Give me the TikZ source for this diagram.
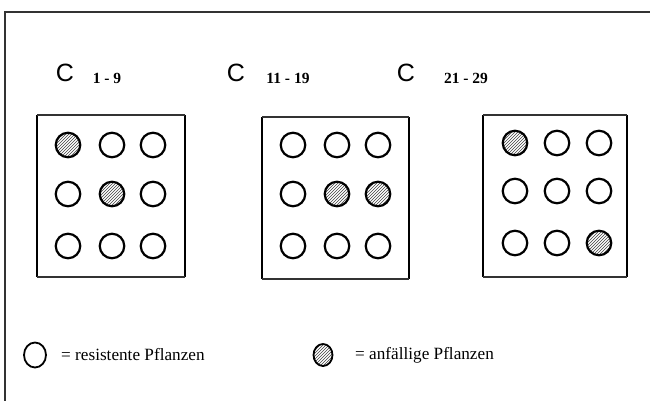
\documentclass[tikz,border=0pt]{standalone}
\usepackage{fontspec}
\setmainfont{Liberation Serif}
\newfontfamily\plainsans{Liberation Sans}
\usetikzlibrary{patterns,shapes.geometric}
\tikzset{
  plant/.style={circle, draw=black, line width=2.2pt, minimum size=24.5pt, inner sep=0pt},
  sick/.style={plant, pattern=north east lines, pattern color=black!75},
  plot/.style={draw=black, line width=2.4pt},
  plotedge/.style={draw=black!80, line width=1.3pt},
  bigC/.style={font=\plainsans\fontsize{25}{25}\selectfont, inner sep=0pt},
  rangelabel/.style={font=\bfseries\fontsize{15.5}{15.5}\selectfont, inner sep=0pt},
  legendtext/.style={font=\fontsize{17.2}{18}\selectfont, anchor=west, inner sep=0pt}
}
\begin{document}
\begin{tikzpicture}[x=1pt, y=-1pt]
\useasboundingbox (0,0) rectangle (650,401);
% outer frame (open to the right and bottom)
\draw[black!80, line width=1.2pt] (5,401) -- (5,12) -- (650,12);

% headings
\node[bigC] (c1) at (65,73) {C};
\node[rangelabel] (r1) at (107,78) {1 - 9};
\node[bigC] (c2) at (236,73) {C};
\node[rangelabel] (r2) at (288,78) {11 - 19};
\node[bigC] (c3) at (406,73) {C};
\node[rangelabel] (r3) at (466,78) {21 - 29};

% plots: side walls heavy, top and bottom light
\foreach \n/\l/\r/\t/\b in {1/37/185/115/277, 2/262/409/117/279, 3/483/627/115/277}{
  \coordinate (p\n nw) at (\l,\t);
  \coordinate (p\n ne) at (\r,\t);
  \coordinate (p\n sw) at (\l,\b);
  \coordinate (p\n se) at (\r,\b);
  \draw[plot] (p\n nw) -- (p\n sw);
  \draw[plot] (p\n ne) -- (p\n se);
  \draw[plotedge] (p\n nw) -- (p\n ne);
  \draw[plotedge] (p\n sw) -- (p\n se);
}

% plot C 1-9
\node[sick]  (a11) at (68,145) {};
\node[plant] (a12) at (112,145) {};
\node[plant] (a13) at (153,145) {};
\node[plant] (a21) at (68,194) {};
\node[sick]  (a22) at (112,194) {};
\node[plant] (a23) at (153,194) {};
\node[plant] (a31) at (68,246) {};
\node[plant] (a32) at (112,246) {};
\node[plant] (a33) at (153,246) {};

% plot C 11-19
\node[plant] (b11) at (293,145) {};
\node[plant] (b12) at (337,145) {};
\node[plant] (b13) at (378,145) {};
\node[plant] (b21) at (293,194) {};
\node[sick]  (b22) at (337,194) {};
\node[sick]  (b23) at (378,194) {};
\node[plant] (b31) at (293,246) {};
\node[plant] (b32) at (337,246) {};
\node[plant] (b33) at (378,246) {};

% plot C 21-29
\node[sick]  (d11) at (515,143) {};
\node[plant] (d12) at (557,143) {};
\node[plant] (d13) at (599,143) {};
\node[plant] (d21) at (515,191) {};
\node[plant] (d22) at (557,191) {};
\node[plant] (d23) at (599,191) {};
\node[plant] (d31) at (515,243) {};
\node[plant] (d32) at (557,243) {};
\node[sick]  (d33) at (599,243) {};

% legend
\node[plant, ellipse, minimum width=22pt, minimum height=25pt, line width=1.8pt] (k1) at (35,355) {};
\node[legendtext] (t1) at (61,355) {= resistente Pflanzen};
\node[sick, ellipse, minimum width=19pt, minimum height=22pt, line width=1.8pt] (k2) at (323,355) {};
\node[legendtext] (t2) at (355,355) {= anfällige Pflanzen};
\end{tikzpicture}
\end{document}
